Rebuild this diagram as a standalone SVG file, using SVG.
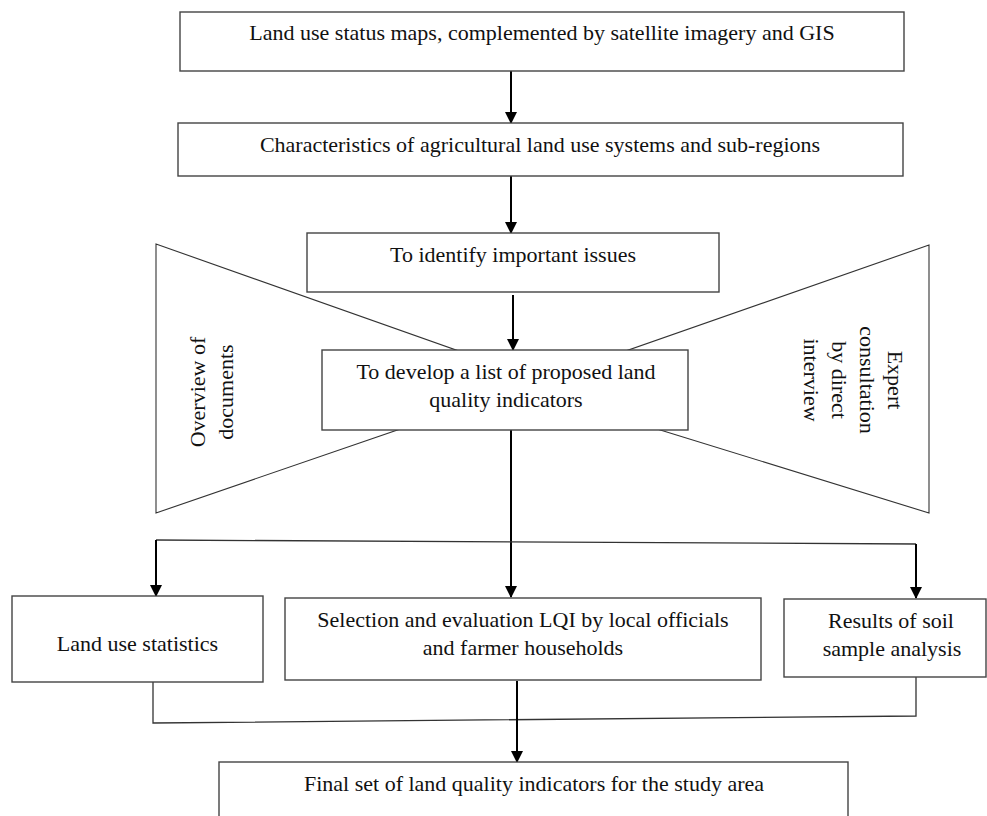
<svg xmlns="http://www.w3.org/2000/svg" width="987" height="816" viewBox="0 0 987 816">
  <defs>
    <marker id="head" viewBox="0 0 12 12" refX="11" refY="6" markerWidth="12" markerHeight="12" markerUnits="userSpaceOnUse" orient="auto">
      <path d="M0,0 L12,6 L0,12 Z" fill="#000"/>
    </marker>
  </defs>
  <style>
    .box { fill: #fff; stroke: #444; stroke-width: 1.4; }
    .funnel { fill: #fff; stroke: #333; stroke-width: 1.1; }
    .lbl { font-family: "Liberation Serif", "Times New Roman", serif; font-size: 22px; fill: #111; text-anchor: middle; }
    .arrow { fill: none; stroke: #000; stroke-width: 2; marker-end: url(#head); }
    .link { fill: none; stroke: #333; stroke-width: 1.3; }
  </style>

  <rect width="987" height="816" fill="#fff"/>

  <!-- side funnels, drawn first so the central box covers their narrow ends -->
  <g id="overview-documents">
    <polygon class="funnel" points="156,244 470,355 470,405 156,513"/>
    <text class="lbl" transform="translate(205,392) rotate(-90)">Overview of</text>
    <text class="lbl" transform="translate(233,392) rotate(-90)">documents</text>
  </g>
  <g id="expert-consultation">
    <polygon class="funnel" points="929,245 560,374 560,399 929,513"/>
    <text class="lbl" transform="translate(888,380) rotate(90)">Expert</text>
    <text class="lbl" transform="translate(860,380) rotate(90)">consultation</text>
    <text class="lbl" transform="translate(832,380) rotate(90)">by direct</text>
    <text class="lbl" transform="translate(804,380) rotate(90)">interview</text>
  </g>

  <g id="connectors">
    <line class="arrow" x1="511" y1="71" x2="511" y2="123"/>
    <line class="arrow" x1="511" y1="176" x2="511" y2="233"/>
    <line class="arrow" x1="513" y1="295" x2="513" y2="350"/>
    <line class="arrow" x1="511" y1="428" x2="511" y2="597"/>
    <polyline class="link" points="156,540 916,544"/>
    <line class="arrow" x1="156" y1="540" x2="156" y2="596"/>
    <line class="arrow" x1="916" y1="544" x2="916" y2="598"/>
    <polyline class="link" points="153,682 153,723 916,716 916,677"/>
    <line class="arrow" x1="517" y1="681" x2="517" y2="762"/>
  </g>

  <g id="land-use-maps">
    <rect class="box" x="180" y="12" width="724" height="59"/>
    <text class="lbl" x="542" y="40">Land use status maps, complemented by satellite imagery and GIS</text>
  </g>
  <g id="land-use-systems">
    <rect class="box" x="178" y="123" width="725" height="53"/>
    <text class="lbl" x="540" y="152">Characteristics of agricultural land use systems and sub-regions</text>
  </g>
  <g id="identify-issues">
    <rect class="box" x="307" y="233" width="412" height="59"/>
    <text class="lbl" x="513" y="262">To identify important issues</text>
  </g>
  <g id="proposed-indicators">
    <rect class="box" x="322" y="350" width="366" height="80"/>
    <text class="lbl" x="506" y="379">To develop a list of proposed land</text>
    <text class="lbl" x="506" y="407">quality indicators</text>
  </g>
  <g id="land-use-statistics">
    <rect class="box" x="12" y="596" width="251" height="86"/>
    <text class="lbl" x="137.5" y="651">Land use statistics</text>
  </g>
  <g id="selection-evaluation">
    <rect class="box" x="285" y="598" width="476" height="82"/>
    <text class="lbl" x="523" y="627">Selection and evaluation LQI by local officials</text>
    <text class="lbl" x="523" y="655">and farmer households</text>
  </g>
  <g id="soil-analysis">
    <rect class="box" x="784" y="599" width="202" height="78"/>
    <text class="lbl" x="891" y="628">Results of soil</text>
    <text class="lbl" x="892" y="656">sample analysis</text>
  </g>
  <g id="final-indicators">
    <rect class="box" x="219" y="762" width="629" height="60"/>
    <text class="lbl" x="534" y="791">Final set of land quality indicators for the study area</text>
  </g>
</svg>
